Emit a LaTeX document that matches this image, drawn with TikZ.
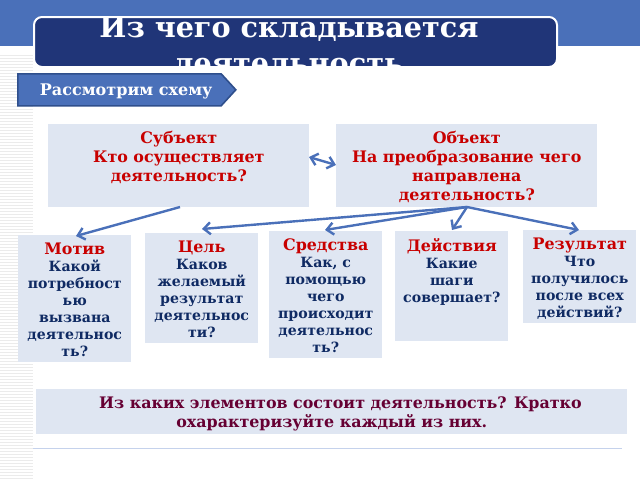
\documentclass[tikz,border=0pt]{standalone}
\usepackage{fontspec}
\setmainfont{DejaVu Serif}
\usetikzlibrary{arrows.meta, shapes.symbols, positioning}

\definecolor{bandBlue}{HTML}{4A70B9}
\definecolor{titleBlue}{HTML}{203578}
\definecolor{tagEdge}{HTML}{2F4F8C}
\definecolor{cellFill}{HTML}{DFE6F2}
\definecolor{headRed}{HTML}{C80000}
\definecolor{askBlue}{HTML}{0F2A63}
\definecolor{askPlum}{HTML}{660033}
\definecolor{ruleBlue}{HTML}{C5D2EC}

\tikzset{
	cell/.style = {fill = cellFill, anchor = north west, inner sep = 0pt},
	bigCell/.style = {cell, minimum width = 261*0.75pt, minimum height = 83*0.75pt},
	smallCell/.style = {cell, minimum width = 113*0.75pt},
	cellText/.style = {align = center, inner sep = 0pt, text depth = 0pt},
	bigText/.style = {cellText, text = headRed, font = \bfseries\fontsize{11.9}{14.3}\selectfont},
	smallText/.style = {cellText, text = askBlue, font = \bfseries\fontsize{10.6}{12.8}\selectfont},
	link/.style = {draw = bandBlue, line width = 1.8pt, -{Straight Barb[length = 5pt, width = 9pt]}},
}
\newcommand{\headWord}[1]{{\color{headRed}\fontsize{11.9}{12.8}\selectfont #1}}

\begin{document}
\begin{tikzpicture}[x = 0.75pt, y = -0.75pt]
	\useasboundingbox (0, 0) rectangle (640, 480);

	\fill [bandBlue] (0, 0) rectangle (640, 46);
	\foreach \y in {55, 58, ..., 478}
		\fill [black!8] (0, \y) rectangle (33, \y + 1);

	\node [draw = white, line width = 1.5pt, fill = titleBlue, rounded corners = 6pt, anchor = north west, inner sep = 0pt, minimum width = 523*0.75pt, minimum height = 50*0.75pt] (titleBox) at (33, 16) {};
	\begin{scope}
		\clip (0, 0) rectangle (640, 65);
		\node [text = white, align = center, anchor = north, inner sep = 0pt, font = \bfseries\fontsize{21.5}{27}\selectfont] (titleText) at (289, 16) {Из чего складывается\\деятельность};
	\end{scope}

	\node [signal, signal to = east, signal pointer angle = 95, draw = tagEdge, line width = 1.2pt, fill = bandBlue, anchor = north west, inner sep = 0pt, minimum width = 218*0.75pt, minimum height = 32*0.75pt] (tag) at (17, 73) {};
	\node [text = white, inner sep = 0pt, font = \bfseries\fontsize{12}{13}\selectfont, right = 17pt of tag.west, yshift = -1.5pt] (tagText) {Рассмотрим схему};

	\node [bigCell] (subject) at (48, 124) {};
	\node [bigText, below = 5.2pt of subject.north] (subjectText) {Субъект\\Кто осуществляет\\деятельность?};
	\node [bigCell] (object) at (336, 124) {};
	\node [bigText, below = 5.2pt of object.north] (objectText) {Объект\\На преобразование чего\\направлена\\деятельность?};

	\node [smallCell, minimum height = 127*0.75pt] (motive) at (18, 235) {};
	\node [smallText, below = 5.5pt of motive.north] (motiveText) {\headWord{Мотив}\\Какой\\потребност\\ью\\вызвана\\деятельнос\\ть?};
	\node [smallCell, minimum height = 110*0.75pt] (goal) at (145, 233) {};
	\node [smallText, below = 5.5pt of goal.north] (goalText) {\headWord{Цель}\\Каков\\желаемый\\результат\\деятельнос\\ти?};
	\node [smallCell, minimum height = 127*0.75pt] (means) at (269, 231) {};
	\node [smallText, below = 5.5pt of means.north] (meansText) {\headWord{Средства}\\Как, с\\помощью\\чего\\происходит\\деятельнос\\ть?};
	\node [smallCell, minimum height = 110*0.75pt] (actions) at (395, 231) {};
	\node [smallText, below = 5.5pt of actions.north] (actionsText) {\headWord{Действия}\\Какие\\шаги\\совершает?};
	\node [smallCell, minimum height = 93*0.75pt] (result) at (523, 230) {};
	\node [smallText, below = 5.5pt of result.north] (resultText) {\headWord{Результат}\\Что\\получилось\\после всех\\действий?};

	\node [cell, minimum width = 591*0.75pt, minimum height = 45*0.75pt] (question) at (36, 389) {};
	\node [cellText, text = askPlum, font = \bfseries\fontsize{11.9}{14.3}\selectfont, below = 5.5pt of question.north] (questionText) {\hspace*{13pt}Из каких элементов состоит деятельность? Кратко\\охарактеризуйте каждый из них.};

	\draw [ruleBlue] (33, 448) -- (622, 448);

	\coordinate (subjectOut) at (180, 207);
	\coordinate (objectOut) at (467, 207);
	\coordinate (motiveIn) at (76, 236);
	\coordinate (goalIn) at (202, 229);
	\coordinate (meansIn) at (325, 230);
	\coordinate (actionsIn) at (452, 230);
	\coordinate (resultIn) at (579, 230);
	\coordinate (pairLeft) at (309, 157);
	\coordinate (pairRight) at (336, 165);

	\draw [link] (subjectOut) -- (motiveIn);
	\foreach \target in {goalIn, meansIn, actionsIn, resultIn}
		\draw [link] (objectOut) -- (\target);
	\draw [link, {Straight Barb[length = 5pt, width = 9pt]}-{Straight Barb[length = 5pt, width = 9pt]}] (pairLeft) -- (pairRight);
\end{tikzpicture}
\end{document}
